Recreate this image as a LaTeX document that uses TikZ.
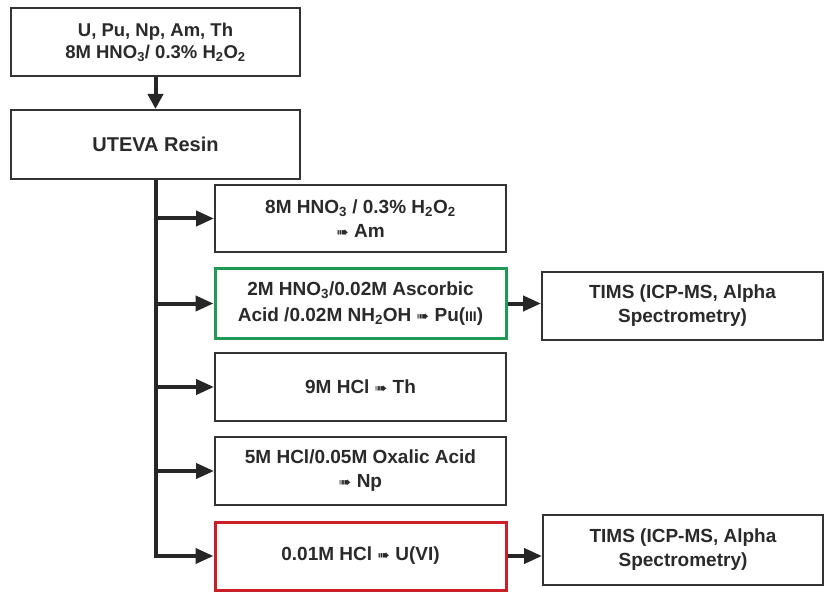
\documentclass[tikz,border=0pt]{standalone}
\usepackage{fontspec}
\setmainfont{Liberation Sans}
\newfontfamily\symfont{DejaVu Sans}
\usetikzlibrary{arrows.meta}
\definecolor{bordergray}{HTML}{333333}
\definecolor{textgray}{HTML}{2A2A2A}
\definecolor{boxgreen}{HTML}{1E9A55}
\definecolor{boxred}{HTML}{CC1E26}
\newcommand{\yields}{{\symfont\fontsize{15}{15}\selectfont ➠}}
\tikzset{
  box/.style={draw=bordergray, line width=2pt, fill=white, rectangle, align=center,
    text=textgray, font=\fontsize{19}{24}\selectfont\bfseries, inner sep=2pt},
  greenbox/.style={box, draw=boxgreen, line width=3pt},
  redbox/.style={box, draw=boxred, line width=3pt},
  trunk/.style={draw=black!85, line width=4pt},
  arr/.style={draw=black!85, line width=4pt, -{Triangle[length=18pt,width=15pt]}},
  downarr/.style={draw=black!85, line width=4pt, -{Triangle[length=15pt,width=15pt]}}
}
\begin{document}
\begin{tikzpicture}[x=1pt,y=-1pt]
\useasboundingbox (0,0) rectangle (825,596);
\node[box, minimum width=289pt, minimum height=68pt, font=\fontsize{18.5}{21}\selectfont\bfseries] (top) at (155.5,42)
  {U, Pu, Np, Am, Th\\[1pt]8M HNO\textsubscript{3}/ 0.3\% H\textsubscript{2}O\textsubscript{2}};
\node[box, minimum width=289pt, minimum height=69pt, font=\fontsize{20}{24}\selectfont\bfseries] (uteva) at (155.5,144.5) {UTEVA Resin};
\node[box, minimum width=291pt, minimum height=67pt] (b1) at (360.5,218.5)
  {8M HNO\textsubscript{3} / 0.3\% H\textsubscript{2}O\textsubscript{2}\\\yields\ Am};
\node[greenbox, minimum width=291pt, minimum height=69pt, font=\fontsize{19}{26}\selectfont\bfseries] (b2) at (360.5,303.5)
  {2M HNO\textsubscript{3}/0.02M Ascorbic\\Acid /0.02M NH\textsubscript{2}OH \yields\ Pu({\fontsize{14}{14}\selectfont III})};
\node[box, minimum width=291pt, minimum height=68pt] (b3) at (360.5,387) {9M HCl \yields\ Th};
\node[box, minimum width=291pt, minimum height=68pt] (b4) at (360.5,471)
  {5M HCl/0.05M Oxalic Acid\\\yields\ Np};
\node[redbox, minimum width=291pt, minimum height=68pt] (b5) at (360.5,556) {0.01M HCl \yields\ U(VI)};
\node[box, minimum width=281pt, minimum height=68pt] (t1) at (682.5,306)
  {TIMS (ICP-MS, Alpha\\Spectrometry)};
\node[box, minimum width=280pt, minimum height=70pt] (t2) at (683,550)
  {TIMS (ICP-MS, Alpha\\Spectrometry)};
\coordinate (trunkend) at (156,558);
\draw[downarr] (top.south) -- (uteva.north);
\draw[trunk] (uteva.south) -- (uteva.south |- trunkend);
\draw[arr] (uteva.south |- b1.west) -- (b1.west);
\draw[arr] (uteva.south |- b2.west) -- (b2.west);
\draw[arr] (uteva.south |- b3.west) -- (b3.west);
\draw[arr] (uteva.south |- b4.west) -- (b4.west);
\draw[arr] (uteva.south |- b5.west) -- (b5.west);
\draw[arr] (b2.east) -- (b2.east -| t1.west);
\draw[arr] (b5.east) -- (b5.east -| t2.west);
\end{tikzpicture}
\end{document}
